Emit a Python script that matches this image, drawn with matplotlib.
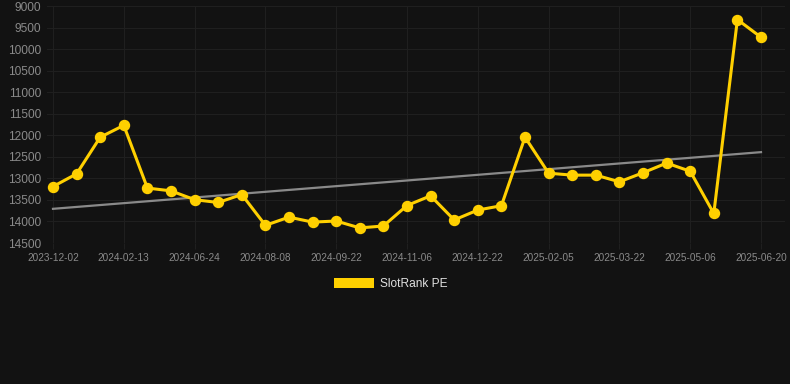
import matplotlib
matplotlib.use("Agg")
import matplotlib.pyplot as plt
import numpy as np
from matplotlib.patches import Patch

plt.rcParams['font.family'] = ['Liberation Sans', 'DejaVu Sans']

tick_labels = ["2023-12-02", "2024-02-13", "2024-06-24", "2024-08-08", "2024-09-22",
               "2024-11-06", "2024-12-22", "2025-02-05", "2025-03-22", "2025-05-06",
               "2025-06-20"]
tick_every = 3
series_name = "SlotRank PE"
values = [13190, 12895, 12045, 11770, 13225, 13290, 13495, 13560, 13375, 14090,
          13900, 14015, 13990, 14150, 14105, 13630, 13405, 13965, 13735, 13635,
          12045, 12880, 12925, 12925, 13080, 12870, 12645, 12835, 13815, 9315,
          9725]

W, H = 790, 384
fig = plt.figure(figsize=(W / 100, H / 100), dpi=100)
bg = "#121212"
fig.patch.set_facecolor(bg)

left_px, right_px, top_px, bot_px = 47, 785, 6, 243
ax = fig.add_axes([left_px / W, 1 - bot_px / H, (right_px - left_px) / W, (bot_px - top_px) / H])
ax.set_facecolor(bg)

x = np.arange(len(values))
y = np.array(values, dtype=float)

# x mapping: index 0 at 53px, index 30 at 761px
px_per = (761 - 53) / (len(values) - 1)
ax.set_xlim(-(53 - left_px) / px_per, (len(values) - 1) + (right_px - 761) / px_per)
ax.set_ylim(14500, 9000)

# trend line (linear regression)
coef = np.polyfit(x, y, 1)
ax.plot([x[0], x[-1]], np.polyval(coef, [x[0], x[-1]]), color="#8a8a8a", lw=1.6, zorder=2)

ax.plot(x, y, color="#FFD000", lw=2.2, marker="o", markersize=7.2, zorder=3)

ax.set_yticks(np.arange(9000, 14501, 500))
ax.set_xticks(x[::tick_every])
ax.set_xticklabels(tick_labels)
ax.grid(True, color="#1f1f1f", lw=0.8)
ax.set_axisbelow(True)
for s in ax.spines.values():
    s.set_visible(False)
ax.tick_params(axis='y', length=0, pad=4, labelsize=8.6, labelcolor="#8a8a8a")
ax.tick_params(axis='x', length=4, color="#1f1f1f", pad=3, labelsize=7.2, labelcolor="#8a8a8a")

handle = Patch(facecolor="#FFD000", edgecolor="none")
leg = fig.legend([handle], [series_name], loc="center", bbox_to_anchor=(0.495, 1 - 284 / H),
                 frameon=False, fontsize=8.6, handlelength=3.33, handleheight=1.0,
                 handletextpad=0.5, labelcolor="#e0e0e0")

fig.savefig("out.png", dpi=100, facecolor=bg)
